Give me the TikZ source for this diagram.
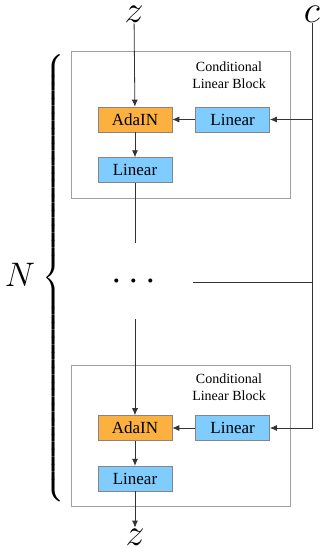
\RequirePackage{fix-cm}
\documentclass[tikz,border=0pt]{standalone}
\usepackage{exscale}
\usepackage{fontspec}
\setmainfont{Liberation Serif}
\usetikzlibrary{arrows.meta,positioning}
\definecolor{adaorange}{HTML}{FBB040}
\definecolor{linblue}{HTML}{80CCFF}
\definecolor{framegray}{HTML}{A0A0A0}
\definecolor{boxgray}{HTML}{858585}

\begin{document}
\begin{tikzpicture}[x=1pt,y=-1pt,>={Latex[length=7pt,width=6pt]},node distance=25pt and 23pt,
 op/.style={draw=boxgray,line width=0.6pt,minimum width=74pt,minimum height=25pt,inner sep=0pt,font=\fontsize{17}{20}\selectfont},
 ada/.style={op,fill=adaorange},
 lin/.style={op,fill=linblue},
 block/.style={draw=framegray,line width=0.8pt},
 ttl/.style={align=center,font=\fontsize{14}{17}\selectfont},
 var/.style={font=\fontsize{38}{40}\selectfont,inner sep=1pt},
 wire/.style={line width=0.8pt,black!80}]
\useasboundingbox (0,0) rectangle (320,557);
% inputs
\node[var] (zin) at (134,14) {$z$};
\node[var] (c) at (312,14) {$c$};
% first block
\draw[block] (71,51) rectangle (290,198);
\node[ttl] (t1) at (229,75) {Conditional\\Linear Block};
\node[ada] (ada1) at (135,119.5) {AdaIN};
\node[lin, right=of ada1] (lc1) {Linear};
\node[lin, below=of ada1] (lo1) {Linear};
% repeated blocks
\node[var] (dots) at (134,282) {$\cdots$};
\coordinate (gap1) at (135,243);
\coordinate (gap2) at (135,319);
\coordinate (tap) at (193,282);
% last block
\draw[block] (71,365) rectangle (290,506);
\node[ttl] (t2) at (229,387) {Conditional\\Linear Block};
\node[ada] (ada2) at (135,428) {AdaIN};
\node[lin, right=of ada2] (lc2) {Linear};
\node[lin, below=of ada2] (lo2) {Linear};
\node[var] (zout) at (135,537) {$z$};
% N copies
\node[font=\fontsize{34}{38}\selectfont,inner sep=0pt] (N) at (20,275) {$N$};
\node[font=\fontsize{28}{32}\selectfont,inner sep=0pt] (brace) at (54,278) {$\left\{\vrule height 226pt depth 214pt width 0pt\right.$};
% wires
\draw[->,wire] (zin) -- (ada1);
\draw[->,wire] (lc1) -- (ada1);
\draw[->,wire] (ada1) -- (lo1);
\draw[->,wire] (c) |- (lc1);
\draw[wire] (lo1) -- (gap1);
\draw[wire] (tap) -- (tap -| c);
\draw[->,wire] (gap2) -- (ada2);
\draw[->,wire] (c) |- (lc2);
\draw[->,wire] (lc2) -- (ada2);
\draw[->,wire] (ada2) -- (lo2);
\draw[->,wire] (lo2) -- (zout);
\end{tikzpicture}
\end{document}
